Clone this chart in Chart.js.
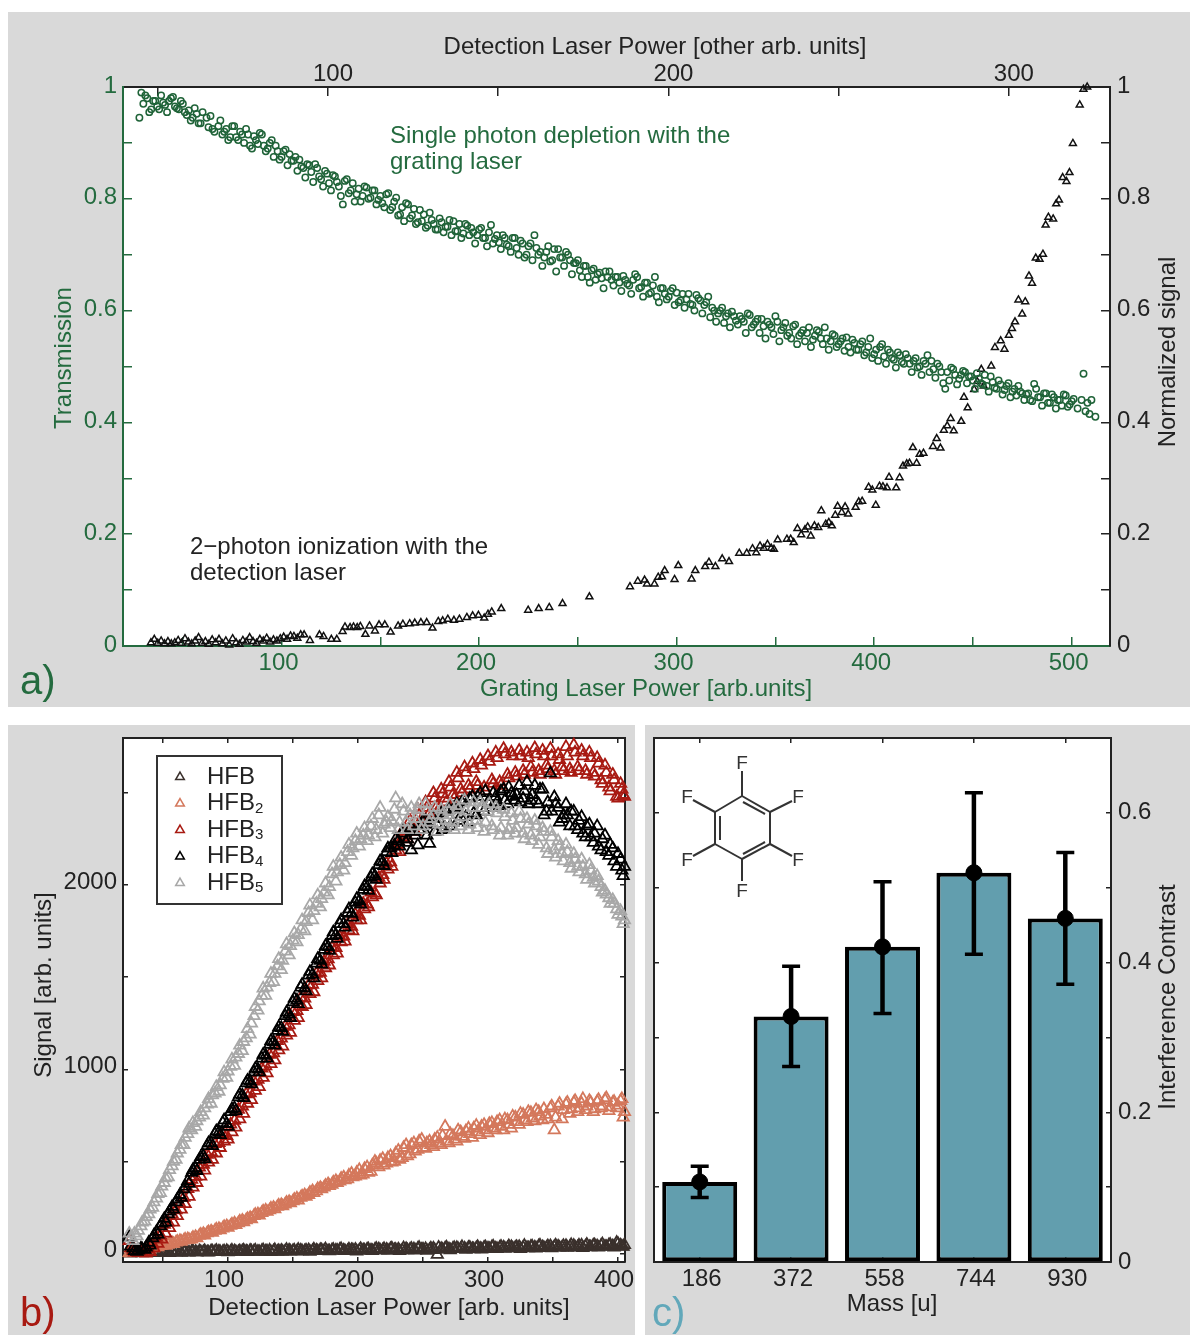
<!DOCTYPE html>
<html>
<head>
<meta charset="utf-8">
<title>HFB signal and contrast</title>
<script src="https://cdn.jsdelivr.net/npm/chart.js@4"></script>
<style>
    body{margin:0;background:#fff;width:1190px;height:1335px;position:relative;overflow:hidden;}
    canvas{position:absolute;background:#d9d9d9;}
    #molecule{position:absolute;left:0;top:0;}
    #molecule line{stroke:#333;stroke-width:2;}
    #molecule text{font:19px "Liberation Sans";fill:#333;text-anchor:middle;dominant-baseline:central;}
</style>
</head>
<body>
<canvas id="chartA" width="1182" height="695" style="left:8px;top:12px"></canvas>
<canvas id="chartB" width="627" height="610" style="left:8px;top:725px"></canvas>
<canvas id="chartC" width="545" height="610" style="left:645px;top:725px"></canvas>
<svg id="molecule" width="1190" height="1335">
    <line x1="742" y1="796" x2="770" y2="812"/><line x1="770" y1="812" x2="770" y2="844"/>
    <line x1="770" y1="844" x2="742" y2="859"/><line x1="742" y1="859" x2="715" y2="844"/>
    <line x1="715" y1="844" x2="715" y2="812"/><line x1="715" y1="812" x2="742" y2="796"/>
    <line x1="743" y1="802" x2="765" y2="814"/><line x1="765" y1="842" x2="743" y2="854"/>
    <line x1="720" y1="816" x2="720" y2="840"/>
    <line x1="742" y1="771" x2="742" y2="796"/><line x1="770" y1="812" x2="792" y2="801"/>
    <line x1="770" y1="844" x2="792" y2="856"/><line x1="742" y1="859" x2="742" y2="881"/>
    <line x1="715" y1="844" x2="693" y2="856"/><line x1="715" y1="812" x2="693" y2="800"/>
    <text x="742" y="762">F</text><text x="798" y="796">F</text><text x="798" y="859">F</text>
    <text x="742" y="890">F</text><text x="687" y="859">F</text><text x="687" y="796">F</text>
</svg>
<script>
// ===============================
// DATA a) grating and detection laser
// ===============================
const greenX = [
    28,29,31,33,35,37,39,41,43,45,47,49,51,53,55,57,59,62,65,68,
    70,72,74,76,78,80,82,84,87,89,91,93,95,98,100,102,105,107,110,113,
    115,117,120,122,124,126,129,131,133,135,138,140,142,145,147,149,151,154,156,158,
    160,163,165,167,169,172,174,176,179,181,183,185,188,190,192,194,197,199,201,203,
    206,208,210,212,215,217,219,221,224,226,228,231,233,235,237,240,242,244,246,249,
    251,253,255,258,260,262,264,267,269,271,273,276,278,280,282,285,287,289,292,294,
    296,298,301,303,305,307,310,312,314,316,319,321,323,325,328,330,332,334,337,339,
    341,344,346,348,350,353,355,357,359,362,364,366,369,371,373,375,378,380,382,384,
    387,389,391,393,396,398,400,403,405,407,409,412,414,416,418,421,423,425,427,430,
    432,434,436,439,441,443,445,448,450,452,454,457,459,461,463,466,468,470,473,475,
    477,479,481,484,486,488,490,493,495,497,499,501,503,505,506,507,508,509,510,512
];
const greenY = [
    .945,.99,.985,.955,.975,.965,.985,.968,.975,.982,.962,.975,.955,.958,.945,.952,.935,.945,.925,.93,
    .915,.925,.91,.93,.905,.915,.925,.895,.905,.918,.895,.89,.905,.885,.875,.888,.868,.875,.858,.862,
    .848,.862,.835,.85,.828,.842,.822,.79,.835,.815,.808,.795,.822,.802,.815,.798,.792,.81,.785,.802,
    .772,.792,.765,.782,.758,.772,.752,.762,.745,.758,.75,.762,.742,.755,.738,.752,.74,.735,.748,.73,
    .753,.728,.722,.735,.715,.73,.712,.725,.7,.72,.735,.705,.695,.715,.69,.71,.695,.705,.69,.685,
    .672,.68,.66,.675,.665,.658,.67,.655,.66,.65,.662,.645,.655,.66,.642,.65,.632,.66,.64,.63,
    .625,.64,.615,.63,.62,.612,.628,.618,.61,.625,.6,.595,.605,.59,.598,.582,.59,.58,.592,.575,
    .585,.572,.58,.57,.59,.565,.578,.56,.572,.555,.565,.56,.548,.565,.55,.57,.545,.555,.54,.55,
    .535,.548,.53,.54,.525,.55,.522,.535,.518,.53,.515,.525,.508,.522,.505,.515,.5,.51,.52,.495,
    .505,.49,.46,.498,.485,.478,.492,.482,.475,.488,.47,.465,.482,.462,.475,.458,.47,.455,.465,.452,
    .45,.44,.469,.445,.452,.435,.45,.44,.43,.448,.432,.442,.425,.44,.487,.42,.435,.415,.44,.41
];
// the green cloud has about twice as many circles, these sit between the ones above
const greenX2 = [
    30,32,34,36,38,40,42,44,46,48,50,52,54,56,58,60,63,64,66,69,
    71,73,75,77,79,81,83,85,86,88,90,92,94,96,97,99,101,103,104,106,
    108,109,111,112,114,116,118,119,121,123,125,127,128,130,132,134,136,137,139,141,
    143,144,146,148,150,152,153,155,157,159,161,162,164,166,168,170,171,173,175,177,
    178,180,182,184,186,187,189,191,193,195,196,198,200,202,204,205,207,209,211,213,
    214,216,218,220,222,223,225,227,229,230,232,234,236,238,239,241,243,245,247,248,
    250,252,254,256,257,259,261,263,265,266,268,270,272,274,275,277,279,281,283,284,
    286,288,290,291,293,295,297,299,300,302,304,306,308,309,311,313,315,317,318,320,
    322,324,326,327,329,331,333,335,336,338,340,342,343,345,347,349,351,352,354,356,
    358,360,361,363,365,367,368,370,372,374,376,377,379,381,383,385,386,388,390,392,
    394,395,397,399,401,402,404,406,408,410,411,413,415,417,419,420,422,424,426,428,
    429,431,433,435,437,438,440,442,444,446,447,449,451,453,455,456,458,460,462,464,
    465,467,469,471,472,474,476,478,480,482,483,485,487,489,491,492,494,496,498,500
];
const greenY2 = [
    .97,.98,.96,.975,.96,.972,.955,.98,.965,.96,.97,.95,.94,.962,.935,.955,.928,.948,.92,.94,
    .92,.905,.93,.91,.92,.9,.915,.89,.912,.898,.915,.885,.9,.875,.895,.87,.885,.86,.88,.868,
    .85,.87,.855,.838,.86,.83,.855,.84,.822,.845,.815,.84,.83,.805,.832,.81,.828,.795,.818,.805,
    .82,.8,.815,.79,.805,.785,.808,.78,.795,.77,.785,.76,.79,.77,.755,.78,.76,.748,.775,.755,
    .745,.765,.74,.75,.735,.76,.742,.73,.755,.735,.748,.72,.745,.73,.715,.74,.72,.735,.71,.73,
    .718,.705,.73,.7,.72,.695,.715,.69,.712,.7,.68,.705,.688,.71,.67,.695,.68,.7,.665,.685,
    .69,.66,.68,.65,.672,.655,.668,.64,.66,.67,.645,.66,.635,.655,.648,.63,.665,.64,.625,.65,
    .63,.645,.625,.615,.64,.62,.635,.61,.632,.618,.605,.63,.61,.6,.622,.595,.615,.588,.605,.58,
    .6,.578,.595,.57,.59,.575,.585,.56,.595,.57,.58,.56,.585,.55,.575,.558,.58,.545,.57,.555,
    .55,.575,.54,.56,.545,.57,.535,.555,.562,.54,.55,.53,.558,.535,.545,.528,.552,.525,.542,.53,
    .545,.52,.535,.515,.53,.51,.54,.505,.525,.512,.498,.52,.505,.515,.49,.51,.498,.485,.505,.49,
    .51,.48,.5,.47,.49,.475,.495,.468,.485,.49,.47,.482,.46,.478,.468,.485,.455,.472,.46,.468,
    .45,.465,.445,.46,.448,.455,.44,.452,.438,.46,.445,.43,.452,.435,.445,.425,.44,.45,.428,.438
];
// black triangles, read against the top axis
const ionX = [
    48,49,50,51,52,53,54,55,56,57,58,59,60,61,62,63,64,65,66,67,68,69,70,71,72,73,74,75,76,77,
    78,79,80,81,82,83,84,85,86,87,88,89,90,91,92,93,94.7,97.5,98.7,101,102.6,104.3,105,106.5,107.5,108.6,
    109.5,111,112.2,113.8,115,116.7,118.4,120.6,122,124,125.5,127.3,129,130.7,132.4,133.7,135.2,137,138.6,140.8,
    142.5,144.2,145.9,147,148.1,150.9,158.8,161.9,165,168.9,176.8,188.7,191,193,193.7,195.9,197,198.1,198.9,201.8,
    202.9,206.8,207.9,210.8,211.9,213.8,215.8,217.8,220.8,223,224.7,225.8,226.9,228,229.1,230.2,231,232.1,234.8,235.9,
    236.8,237.9,239,240.1,240.9,241.8,242.9,244,244.9,246.2,247.1,248,249,249.7,250.9,251.9,252.8,255,255.9,256.9,
    258.8,259.9,260.9,262,263,264.2,264.8,266.9,267.9,268.9,270,270.8,272.9,271.8,273.8,274.9,277.7,278.8,279.9,280.9,
    281.9,282.9,283.8,286,286.8,287.9,289.8,290.7,291.9,292.6,294.8,295.9,297.6,298.7,300,300.9,301.8,303.9,302.8,304.8,
    305.9,306.8,307.9,309,310,310.8,311.6,313,313.9,314.7,315.8,316.9,317.8,318.8,320.8,321.9,323
];
const ionY = [
    .006,.012,.005,.009,.004,.008,.004,.006,.01,.005,.013,.007,.004,.009,.015,.005,.008,.003,.011,.006,.012,.004,.009,.002,.013,.006,.003,.01,.007,.015,
    .008,.005,.012,.009,.014,.007,.011,.009,.013,.016,.012,.018,.017,.014,.02,.02,.01,.02,.017,.012,.012,.026,.034,.033,.034,.033,
    .035,.021,.036,.027,.038,.038,.025,.036,.039,.04,.041,.042,.042,.032,.044,.045,.048,.046,.048,.051,
    .054,.055,.05,.057,.061,.067,.064,.067,.069,.076,.088,.106,.116,.118,.111,.111,.123,.124,.135,.119,
    .144,.12,.135,.142,.15,.142,.156,.151,.166,.166,.174,.167,.179,.175,.182,.175,.173,.19,.191,.191,
    .185,.21,.199,.208,.213,.197,.215,.212,.242,.218,.221,.215,.234,.25,.239,.249,.236,.248,.258,.259,
    .284,.279,.252,.286,.285,.283,.302,.283,.301,.322,.326,.327,.327,.355,.343,.345,.357,.371,.354,.386,
    .394,.407,.385,.402,.445,.426,.459,.473,.495,.465,.501,.534,.546,.531,.556,.568,.58,.594,.619,.616,
    .662,.649,.694,.692,.701,.753,.767,.764,.791,.798,.838,.831,.847,.899,.968,.996,1
];
const aBottomTicks = [50,100,150,200,250,300,350,400,450,500];
const aBottomLabels = [100,200,300,400,500];
const aTopTicks = [50,100,150,200,250,300];
const aTopLabels = [100,200,300];
const aYTicks = [0,.1,.2,.3,.4,.5,.6,.7,.8,.9,1];
const aYLabels = [0,.2,.4,.6,.8,1];

// ===============================
// DATA b) signal per mass
// ===============================
const seriesNames = ['HFB','HFB','HFB','HFB','HFB'];
const seriesSubs = ['','2','3','4','5'];
const powerX = [
    24,27,30,33,36,39,42,45,48,51,54,57,60,63,66,69,
    72,75,78,81,84,87,90,93,96,99,102,105,108,111,114,117,
    120,123,126,129,132,135,138,141,144,147,150,153,156,159,162,165,
    168,171,174,177,180,183,186,189,192,195,198,201,204,207,210,213,
    216,219,222,225,228,231,234,237,240,243,246,249,252,255,258,261,
    264,267,270,273,276,279,282,285,288,291,294,297,300,303,306,309,
    312,315,318,321,324,327,330,333,336,339,342,345,348,351,354,357,
    360,363,366,369,372,375,378,381,384,387,390,393,396,399,402,404,
    25,28,31,34,37,40,43,46,49,52,55,58,61,64,67,70,
    73,76,79,82,85,88,91,94,97,100,103,106,109,112,115,118,
    121,124,127,130,133,136,139,142,145,148,151,154,157,160,163,166,
    169,172,175,178,181,184,187,190,193,196,199,202,205,208,211,214,
    217,220,223,226,229,232,235,238,241,244,247,250,253,256,259,262,
    265,268,271,274,277,280,283,286,289,292,295,298,301,304,307,310,
    313,316,319,322,325,328,331,334,337,340,343,346,349,352,355,358,
    361,364,367,370,373,376,379,382,385,388,391,394,397,400,403,405
];
const hfb1 = [
    4,6,5,8,4,7,10,6,11,8,9,12,7,10,13,9,
    12,10,14,11,9,15,12,13,10,16,12,14,11,15,13,17,
    14,12,16,13,18,15,12,17,14,19,16,13,18,15,20,16,
    18,21,17,15,20,18,22,19,16,21,23,18,20,24,19,22,
    25,20,23,26,21,24,19,27,22,25,28,23,26,21,29,-5,
    27,30,25,28,32,26,29,33,27,31,28,34,30,36,29,33,
    35,31,37,33,38,34,32,39,35,41,36,33,42,37,40,35,
    43,38,44,36,45,40,37,46,41,44,39,47,42,60,45,38,
    2,5,8,3,9,6,4,11,7,13,5,10,14,6,12,8,
    15,7,11,16,8,13,17,10,14,9,18,11,15,19,10,14,
    18,11,20,14,10,21,16,12,22,13,18,23,14,19,12,24,
    15,20,25,14,22,17,26,15,24,20,13,27,18,25,16,28,
    19,27,17,30,22,16,31,20,28,18,33,24,17,30,21,34,
    23,35,20,32,26,37,22,34,25,38,24,36,27,40,26,39,
    28,42,30,38,27,44,31,40,29,45,32,42,30,46,34,43,
    33,48,35,45,32,50,36,47,34,52,38,49,35,54,40,48
];
const hfb2 = [
    5,8,12,18,22,26,30,38,42,48,50,58,62,70,72,80,
    78,92,98,108,112,122,125,135,138,150,152,165,166,180,182,195,
    205,215,222,235,236,250,255,265,268,282,285,300,305,318,320,340,
    340,358,360,378,375,395,392,415,405,435,420,455,430,470,445,500,
    470,515,490,530,500,560,520,590,540,600,565,620,570,610,580,630,
    590,690,600,640,610,660,625,680,630,695,645,700,655,710,670,725,
    670,725,680,740,700,755,715,765,720,770,725,755,790,671,800,730,
    810,760,820,770,815,780,830,770,825,790,835,775,820,790,830,740,
    3,6,10,15,20,24,34,36,46,44,56,54,66,66,78,76,
    88,84,104,100,118,114,132,128,146,142,160,156,176,172,190,188,
    212,208,230,228,246,242,262,258,278,274,294,290,312,310,332,330,
    352,350,370,368,388,385,408,400,425,415,440,425,460,440,480,490,
    505,480,520,495,545,510,575,530,590,555,610,575,600,590,620,600,
    640,610,650,620,670,635,665,650,680,660,690,670,705,680,715,690,
    730,700,745,715,760,725,770,735,780,745,785,730,800,740,815,780,
    820,785,830,790,840,800,820,785,835,800,845,795,825,805,840,770
];
const hfb3 = [
    70,18,10,14,6,24,52,88,100,158,170,214,236,270,305,352,
    402,418,468,484,538,552,596,602,650,640,702,722,782,800,866,872,
    935,945,1005,1018,1080,1088,1155,1168,1232,1240,1312,1318,1388,1385,1458,1460,
    1520,1525,1585,1598,1660,1660,1720,1722,1785,1775,1840,1835,1900,1896,1960,1955,
    2040,2055,2118,2125,2215,2220,2290,2270,2350,2300,2410,2360,2450,2390,2500,2430,
    2520,2470,2560,2490,2610,2520,2640,2540,2661,2560,2680,2530,2700,2570,2720,2560,
    2740,2600,2720,2610,2730,2620,2720,2640,2744,2620,2730,2650,2740,2620,2710,2640,
    2750,2630,2760,2640,2730,2620,2720,2610,2690,2570,2650,2530,2600,2480,2550,2490,
    30,8,4,8,2,10,30,55,78,110,140,170,205,240,270,310,
    360,385,420,452,495,510,545,575,610,620,660,685,730,760,815,835,
    885,905,955,980,1030,1050,1105,1125,1185,1200,1265,1280,1340,1350,1410,1420,
    1480,1495,1550,1565,1620,1630,1690,1695,1755,1750,1810,1810,1870,1880,1935,1945,
    2010,2030,2085,2100,2190,2180,2260,2250,2320,2290,2380,2340,2420,2370,2470,2410,
    2495,2450,2530,2470,2580,2500,2610,2520,2630,2540,2650,2510,2670,2550,2690,2540,
    2710,2580,2700,2590,2700,2600,2690,2610,2710,2600,2700,2630,2700,2600,2680,2620,
    2700,2610,2720,2620,2700,2600,2690,2590,2660,2550,2610,2510,2570,2470,2520,2480
];
const hfb4 = [
    90,30,12,30,22,60,85,120,150,190,215,255,280,320,350,395,
    440,465,510,530,585,600,650,660,710,705,770,790,850,860,925,935,
    985,1000,1060,1075,1135,1150,1210,1225,1290,1300,1365,1375,1445,1440,1510,1515,
    1575,1590,1650,1665,1725,1730,1790,1790,1850,1845,1905,1915,1975,1990,2040,2050,
    2110,2125,2180,2200,2215,2240,2280,2230,2310,2290,2217,2330,2350,2225,2370,2330,
    2390,2310,2410,2340,2440,2370,2460,2340,2480,2380,2500,2400,2450,2420,2480,2430,
    2520,2440,2500,2460,2540,2470,2560,2460,2540,2440,2520,2400,2607,2478,2420,2360,
    2440,2320,2400,2300,2370,2260,2330,2230,2320,2190,2270,2160,2200,2100,2140,2050,
    40,15,18,25,35,45,100,105,165,170,230,240,295,305,365,380,
    455,450,525,515,600,585,665,645,725,690,785,775,865,845,940,920,
    1005,985,1080,1060,1155,1130,1230,1205,1310,1280,1385,1355,1460,1425,1530,1495,
    1600,1570,1670,1645,1745,1710,1810,1770,1870,1825,1925,1895,1995,1970,2060,2030,
    2130,2105,2200,2175,2250,2210,2300,2250,2190,2270,2300,2350,2270,2330,2290,2360,
    2300,2400,2320,2420,2350,2450,2370,2470,2390,2480,2420,2510,2440,2500,2450,2510,
    2460,2530,2480,2490,2450,2510,2440,2490,2460,2520,2380,2450,2400,2440,2340,2380,
    2380,2400,2320,2350,2280,2320,2260,2280,2210,2250,2180,2220,2130,2170,2080,2100
];
const hfb5 = [
    110,70,95,150,175,215,250,300,330,385,415,475,510,565,590,650,
    670,690,740,750,810,815,870,880,950,955,1015,1020,1085,1100,1170,1190,
    1290,1320,1400,1400,1470,1475,1560,1540,1640,1620,1700,1690,1760,1750,1850,1810,
    1900,1880,1960,1945,2060,2020,2110,2080,2180,2160,2240,2210,2270,2240,2320,2260,
    2380,2280,2340,2310,2410,2300,2440,2340,2380,2320,2410,2300,2440,2340,2380,2290,
    2410,2310,2400,2340,2430,2320,2460,2300,2420,2350,2450,2290,2400,2320,2420,2270,
    2410,2270,2390,2280,2400,2280,2360,2270,2350,2220,2310,2200,2290,2190,2240,2170,
    2220,2120,2170,2100,2140,2060,2110,2040,2050,1990,1970,1930,1920,1870,1860,1790,
    85,110,125,170,200,240,280,325,365,410,455,500,545,590,630,680,
    710,720,770,790,840,860,905,915,985,990,1055,1065,1130,1150,1220,1250,
    1340,1370,1440,1445,1520,1520,1600,1590,1680,1670,1740,1730,1810,1800,1890,1860,
    1945,1925,2010,1990,2100,2070,2150,2120,2220,2200,2280,2250,2310,2270,2360,2300,
    2420,2330,2370,2350,2472,2340,2400,2300,2420,2360,2440,2320,2400,2360,2420,2330,
    2380,2350,2440,2300,2410,2370,2400,2330,2450,2310,2420,2340,2440,2300,2390,2310,
    2370,2300,2350,2310,2360,2250,2330,2240,2320,2260,2290,2170,2260,2150,2210,2130,
    2180,2090,2140,2070,2100,2030,2080,2010,2020,1960,1950,1900,1900,1840,1830,1810
];
const bXTicks = [50,100,150,200,250,300,350,400];
const bXLabels = [100,200,300,400];
const bYTicks = [0,500,1000,1500,2000,2500];
const bYLabels = [0,1000,2000];

// ===============================
// DATA c) contrast per mass
// ===============================
const masses = ['186','372','558','744','930'];
const contrast = [.107,.328,.421,.52,.459];
const errLow = [.086,.261,.332,.411,.371];
const errHigh = [.128,.395,.508,.627,.547];
const cYTicks = [0,.1,.2,.3,.4,.5,.6];
const cYLabels = [0,.2,.4,.6];

// ===============================
// WARNA
// ===============================
const GREEN = '#246b3f';
const DARK = '#222222';
const RED = '#a81a12';
const TEAL = '#629eae';
const seriesColors = ['#3a302c','#d4785c',RED,'#000000','#a8a8a8'];
const FONT = '"Liberation Sans", Arial, sans-serif';
const TEXT_SIZE = 24;

// ===============================
// HELPERS
// ===============================
function toPoints(xs,ys){
    return xs.map((x,i)=>({x:x,y:ys[i]}));
}

// fixed box and no label overhang, so the plot frame lands where it should
function fixBox(axis,horizontal,boxSize){
    if(horizontal) axis.height = boxSize;
    else axis.width = boxSize;
    axis.paddingTop = 0;
    axis.paddingBottom = 0;
    axis.paddingLeft = 0;
    axis.paddingRight = 0;
}

// one inward-ticked axis
function makeAxis(position,min,max,ticks,labels,color,boxSize,tickLen,gap,labelShift){
    const horizontal = position==='top' || position==='bottom';
    return {
        type:'linear',
        position:position,
        min:min,
        max:max,
        afterBuildTicks:axis=>{ axis.ticks = ticks.map(v=>({value:v})); },
        afterFit:axis=>fixBox(axis,horizontal,boxSize),
        border:{color:color,width:2},
        grid:{drawOnChartArea:false,color:color,tickLength:-tickLen,lineWidth:1.5},
        ticks:{
            autoSkip:false,
            maxRotation:0,
            minRotation:0,
            color:color,
            padding:gap+tickLen,
            labelOffset:labelShift||0,
            font:{family:FONT,size:TEXT_SIZE},
            callback:v=>labels.includes(v) ? String(v) : ''
        }
    };
}

// axis titles, notes and the panel letter, in page coordinates
function textPlugin(left,top,items){
    return {
        id:'pageTexts',
        afterDraw(chart){
            const ctx = chart.ctx;
            items.forEach(t=>{
                ctx.save();
                ctx.translate(t.x-left,t.y-top);
                if(t.rot) ctx.rotate(t.rot);
                ctx.font = (t.size||TEXT_SIZE)+'px '+FONT;
                ctx.fillStyle = t.color;
                ctx.textAlign = t.align||'center';
                ctx.textBaseline = 'middle';
                ctx.fillText(t.text,0,1);
                ctx.restore();
            });
        }
    };
}

// white plot field on the gray panel
const whiteField = {
    id:'whiteField',
    beforeDraw(chart){
        const a = chart.chartArea;
        chart.ctx.save();
        chart.ctx.fillStyle = '#fff';
        chart.ctx.fillRect(a.left,a.top,a.right-a.left,a.bottom-a.top);
        chart.ctx.restore();
    }
};

const commonOptions = {
    responsive:false,
    animation:false,
    layout:{padding:0},
    plugins:{legend:{display:false},tooltip:{enabled:false}}
};

// ===============================
// CHART a)
// ===============================
new Chart(document.getElementById('chartA'),{
    type:'scatter',
    data:{
        datasets:[
            {label:'Single photon depletion',data:toPoints(greenX.concat(greenX2),greenY.concat(greenY2)),xAxisID:'x',yAxisID:'y',
             pointStyle:'circle',pointRadius:3.2,pointBorderWidth:1.5,pointBorderColor:'#1f6338',pointBackgroundColor:'transparent',clip:false},
            {label:'2-photon ionization',data:toPoints(ionX,ionY),xAxisID:'xTop',yAxisID:'yRight',
             pointStyle:'triangle',pointRadius:4,pointBorderWidth:1.5,pointBorderColor:'#111',pointBackgroundColor:'transparent',clip:false}
        ]
    },
    options:{
        ...commonOptions,
        scales:{
            x:makeAxis('bottom',19.7,519.4,aBottomTicks,aBottomLabels,GREEN,61,9,3,-3),
            xTop:makeAxis('top',39.8,329.7,aTopTicks,aTopLabels,DARK,75,9,-2,5),
            y:makeAxis('left',0,1,aYTicks,aYLabels,GREEN,115,9,6,-1),
            yRight:makeAxis('right',0,1,aYTicks,aYLabels,DARK,80,9,7,-1)
        }
    },
    plugins:[whiteField,textPlugin(8,12,[
        {text:'Detection Laser Power [other arb. units]',x:655,y:46,color:DARK},
        {text:'Grating Laser Power [arb.units]',x:646,y:688,color:GREEN},
        {text:'Transmission',x:63,y:358,color:GREEN,rot:-Math.PI/2},
        {text:'Normalized signal',x:1167,y:352,color:DARK,rot:-Math.PI/2},
        {text:'Single photon depletion with the',x:390,y:135,color:GREEN,align:'left'},
        {text:'grating laser',x:390,y:161,color:GREEN,align:'left'},
        {text:'2\u2212photon ionization with the',x:190,y:546,color:DARK,align:'left'},
        {text:'detection laser',x:190,y:572,color:DARK,align:'left'},
        {text:'a)',x:20,y:682,color:GREEN,align:'left',size:40}
    ])]
});

// ===============================
// CHART b)
// ===============================
const legendPlugin = {
    id:'massLegend',
    afterDraw(chart){
        const ctx = chart.ctx;
        ctx.save();
        ctx.fillStyle = '#fff';
        ctx.strokeStyle = '#333';
        ctx.lineWidth = 2;
        ctx.fillRect(149,31,125,148);
        ctx.strokeRect(149,31,125,148);
        seriesNames.forEach((name,i)=>{
            const y = 52+i*26.5;
            ctx.fillStyle = '#fff';
            ctx.strokeStyle = seriesColors[i];
            ctx.lineWidth = 1.5;
            Chart.helpers.drawPoint(ctx,{pointStyle:'triangle',radius:5,rotation:0,borderWidth:1.5},172,y);
            ctx.fillStyle = DARK;
            ctx.textBaseline = 'middle';
            ctx.font = TEXT_SIZE+'px '+FONT;
            ctx.fillText(name,199,y);
            if(seriesSubs[i]){
                const w = ctx.measureText(name).width;
                ctx.font = '15px '+FONT;
                ctx.fillText(seriesSubs[i],199+w,y+5);
            }
        });
        ctx.restore();
    }
};

function signalSet(i,values){
    const name = seriesNames[i]+seriesSubs[i];
    return {label:name,data:toPoints(powerX,values),order:5-i,clip:false,
        pointStyle:'triangle',pointRadius:6.5,pointBorderWidth:1.8,
        pointBorderColor:seriesColors[i],pointBackgroundColor:'transparent'};
}

new Chart(document.getElementById('chartB'),{
    type:'scatter',
    data:{datasets:[signalSet(0,hfb1),signalSet(1,hfb2),signalSet(2,hfb3),signalSet(3,hfb4),signalSet(4,hfb5)]},
    options:{
        ...commonOptions,
        scales:{
            x:makeAxis('bottom',19.2,405.4,bXTicks,bXLabels,DARK,73,5,4,-4),
            xTop:makeAxis('top',19.2,405.4,bXTicks,[],DARK,13,5,0),
            y:makeAxis('left',-45,2798,bYTicks,bYLabels,DARK,115,5,6,-3),
            yRight:makeAxis('right',-45,2798,bYTicks,[],DARK,10,5,0)
        }
    },
    plugins:[whiteField,legendPlugin,textPlugin(8,725,[
        {text:'Signal [arb. units]',x:43,y:985,color:DARK,rot:-Math.PI/2},
        {text:'Detection Laser Power [arb. units]',x:389,y:1307,color:DARK},
        {text:'b)',x:20,y:1314,color:RED,align:'left',size:40}
    ])]
});

// ===============================
// CHART c)
// ===============================
const errorBarPlugin = {
    id:'errorBars',
    afterDatasetsDraw(chart){
        const ctx = chart.ctx;
        const xs = chart.scales.x;
        const ys = chart.scales.yRight;
        ctx.save();
        ctx.strokeStyle = '#000';
        masses.forEach((m,i)=>{
            const x = xs.getPixelForValue(i);
            const lo = ys.getPixelForValue(errLow[i]);
            const hi = ys.getPixelForValue(errHigh[i]);
            ctx.lineWidth = 4.5;
            ctx.beginPath();
            ctx.moveTo(x,lo);
            ctx.lineTo(x,hi);
            ctx.stroke();
            ctx.lineWidth = 3.5;
            ctx.beginPath();
            ctx.moveTo(x-9,lo);
            ctx.lineTo(x+9,lo);
            ctx.moveTo(x-9,hi);
            ctx.lineTo(x+9,hi);
            ctx.stroke();
        });
        ctx.restore();
    }
};

function categoryAxis(position,boxSize,showLabels){
    return {
        type:'category',
        position:position,
        labels:masses,
        offset:true,
        afterFit:axis=>fixBox(axis,true,boxSize),
        border:{color:DARK,width:2},
        grid:{offset:false,drawOnChartArea:false,color:DARK,tickLength:-5,lineWidth:1.5},
        ticks:{display:showLabels,color:DARK,padding:8,labelOffset:2,maxRotation:0,font:{family:FONT,size:TEXT_SIZE}}
    };
}

new Chart(document.getElementById('chartC'),{
    type:'bar',
    data:{
        labels:masses,
        datasets:[
            {type:'line',label:'mean',data:contrast,xAxisID:'x',yAxisID:'yRight',order:1,showLine:false,
             pointRadius:8,pointBackgroundColor:'#000',pointBorderColor:'#000'},
            {type:'bar',label:'Interference Contrast',data:contrast,xAxisID:'x',yAxisID:'yRight',order:2,
             backgroundColor:TEAL,borderColor:'#000',borderWidth:4,borderSkipped:false,
             barPercentage:.82,categoryPercentage:1}
        ]
    },
    options:{
        ...commonOptions,
        scales:{
            x:categoryAxis('bottom',73,true),
            xTop:categoryAxis('top',13,false),
            yLeft:{...makeAxis('left',0,.7,cYTicks,[],DARK,9,5,0),ticks:{display:false}},
            yRight:makeAxis('right',0,.7,cYTicks,cYLabels,DARK,79,5,7)
        }
    },
    plugins:[whiteField,errorBarPlugin,textPlugin(645,725,[
        {text:'Interference Contrast',x:1167,y:997,color:DARK,rot:-Math.PI/2},
        {text:'Mass [u]',x:892,y:1303,color:DARK},
        {text:'c)',x:652,y:1314,color:'#62a8ba',align:'left',size:40}
    ])]
});
</script>
</body>
</html>
